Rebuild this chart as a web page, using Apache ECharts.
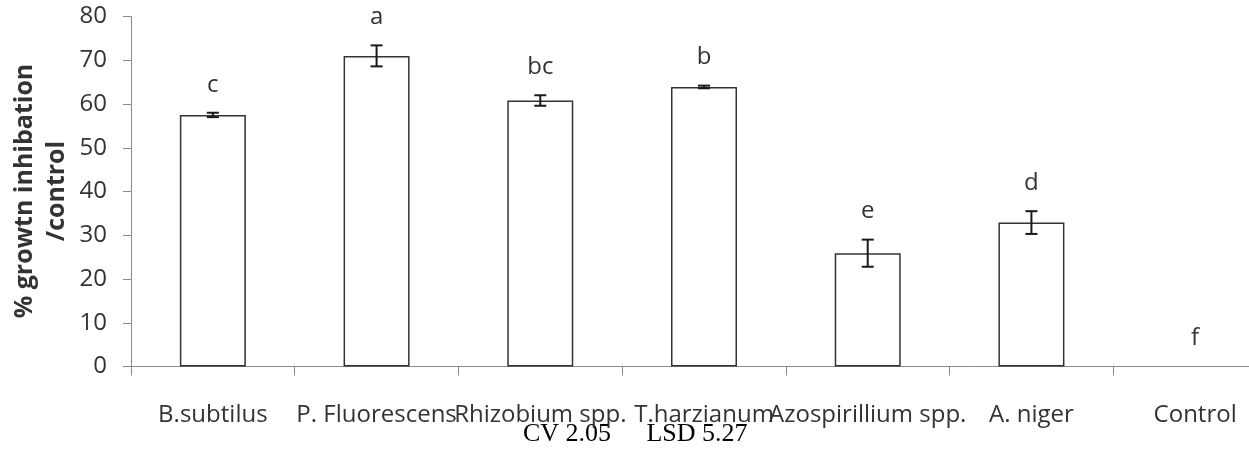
<!DOCTYPE html>
<html>
<head>
<meta charset="utf-8">
<script src="https://cdn.jsdelivr.net/npm/echarts@6/dist/echarts.min.js"></script>
<style>
  html, body { margin: 0; padding: 0; background: #fff; }
  #chart { width: 1249px; height: 461px; }
</style>
</head>
<body>
<div id="chart"></div>
<script>
const categories = ['B.subtilus', 'P. Fluorescens', 'Rhizobium spp.', 'T.harzianum', 'Azospirillium spp.', 'A. niger', 'Control'];
const means = [57.5, 71.0, 60.8, 63.9, 25.9, 32.9, 0];
const errors = [0.5, 2.4, 1.2, 0.3, 3.1, 2.6, 0];
const letters = ['c', 'a', 'bc', 'b', 'e', 'd', 'f'];
const yTicks = [0, 10, 20, 30, 40, 50, 60, 70, 80];

const FONT = '"Open Sans", sans-serif';
const TEXT = '#333';

const chart = echarts.init(document.getElementById('chart'), null, { renderer: 'canvas' });

// zero-height bars get no outline, as in the original
const barData = means.map(v => ({
  value: v,
  itemStyle: v === 0 ? { borderWidth: 0 } : undefined
}));
const errData = means.map((m, i) => [i, m, errors[i]]);

function renderError(params, api) {
  const idx = api.value(0);
  const m = api.value(1);
  const e = api.value(2);
  const top = api.coord([idx, m + e]);
  const bot = api.coord([idx, m - e]);
  const half = 6;
  const children = [];
  if (e > 0) {
    const st = { stroke: '#1a1a1a', lineWidth: 2 };
    children.push(
      { type: 'line', shape: { x1: top[0], y1: top[1], x2: bot[0], y2: bot[1] }, style: st },
      { type: 'line', shape: { x1: top[0] - half, y1: top[1], x2: top[0] + half, y2: top[1] }, style: st },
      { type: 'line', shape: { x1: bot[0] - half, y1: bot[1], x2: bot[0] + half, y2: bot[1] }, style: st }
    );
  }
  children.push({
    type: 'text',
    x: top[0],
    y: top[1] - 28,
    style: {
      text: letters[params.dataIndex],
      fill: TEXT,
      font: '24px ' + FONT,
      align: 'center',
      verticalAlign: 'middle'
    }
  });
  return { type: 'group', children: children };
}

chart.setOption({
  animation: false,
  backgroundColor: '#fff',
  // the plot runs past the right edge of the picture (the last category is cut off)
  grid: { left: 131, width: 1146, top: 16.5, height: 350, outerBoundsMode: 'none', containLabel: false },
  xAxis: {
    type: 'category',
    data: categories,
    axisLine: { lineStyle: { color: '#8a8a8a', width: 1 } },
    axisTick: { show: true, length: 9, lineStyle: { color: '#8a8a8a' } },
    axisLabel: {
      interval: 0,
      margin: 37,
      color: TEXT,
      fontFamily: FONT,
      fontSize: 24,
      hideOverlap: false
    }
  },
  yAxis: {
    type: 'value',
    min: yTicks[0],
    max: yTicks[yTicks.length - 1],
    interval: 10,
    axisLine: { show: true, lineStyle: { color: '#8a8a8a', width: 1 } },
    axisTick: { show: true, length: 8, lineStyle: { color: '#8a8a8a' } },
    splitLine: { show: false },
    axisLabel: {
      margin: 24,
      color: TEXT,
      fontFamily: FONT,
      fontSize: 24
    }
  },
  series: [
    {
      type: 'bar',
      data: barData,
      barWidth: 66,
      itemStyle: { color: '#fff', borderColor: '#333', borderWidth: 1.5 },
      silent: true
    },
    {
      type: 'custom',
      data: errData,
      renderItem: renderError,
      encode: { x: 0, y: 1 },
      z: 5,
      silent: true
    }
  ],
  graphic: [
    {
      type: 'text',
      x: 41,
      y: 191,
      rotation: Math.PI / 2,
      style: {
        text: '% growtn inhibation\n/control',
        font: 'bold 25px ' + FONT,
        fill: TEXT,
        align: 'center',
        verticalAlign: 'middle',
        lineHeight: 32
      }
    },
    {
      type: 'text',
      x: 567,
      y: 434,
      style: {
        text: 'CV 2.05',
        font: '26px "Liberation Serif", serif',
        fill: '#000',
        align: 'center',
        verticalAlign: 'middle'
      }
    },
    {
      type: 'text',
      x: 697,
      y: 434,
      style: {
        text: 'LSD 5.27',
        font: '26px "Liberation Serif", serif',
        fill: '#000',
        align: 'center',
        verticalAlign: 'middle'
      }
    }
  ]
});
</script>
</body>
</html>
